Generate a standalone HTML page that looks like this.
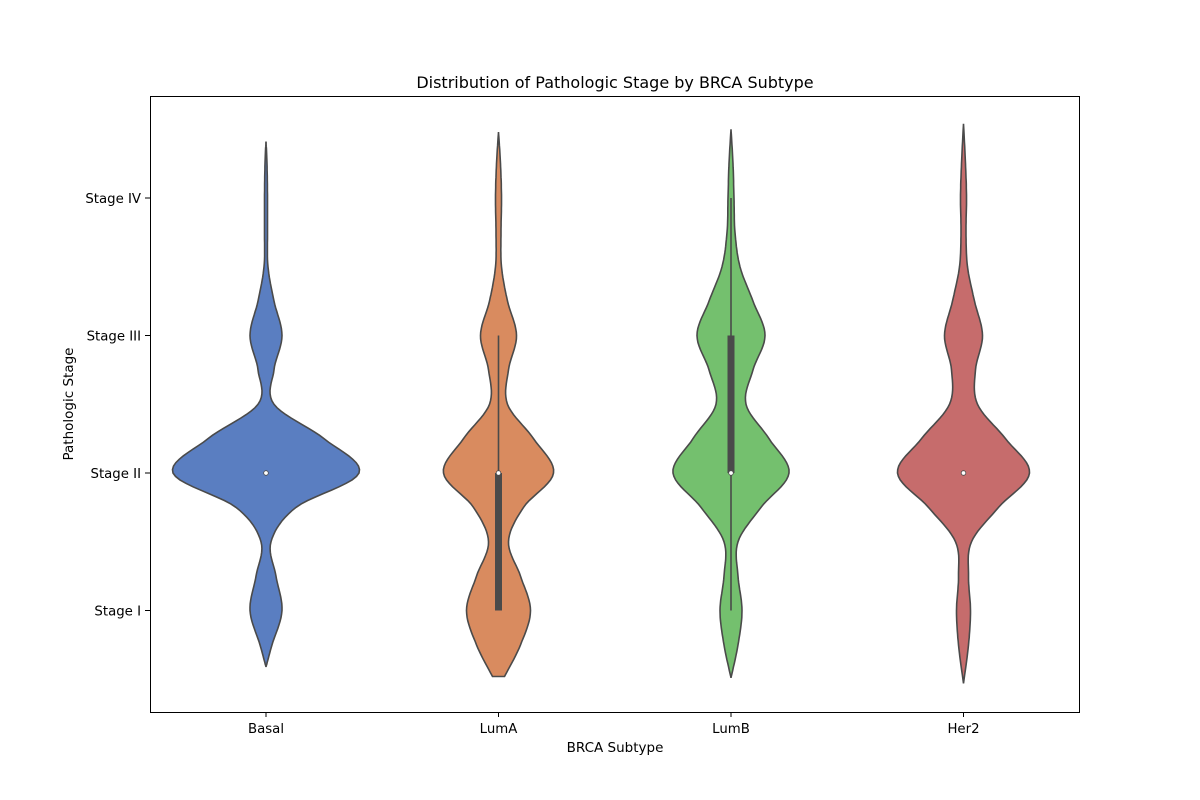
<!DOCTYPE html>
<html><head><meta charset="utf-8"><style>
body{margin:0;background:#fff;}
svg{display:block;font-family:"DejaVu Sans","Liberation Sans",sans-serif;}
</style></head><body>
<svg id="chart" width="1200" height="800" viewBox="0 0 1200 800">
<rect width="1200" height="800" fill="#fff"/>
<text x="615" y="88" font-size="16" text-anchor="middle">Distribution of Pathologic Stage by BRCA Subtype</text>
<g id="violins"></g>
<rect x="150.5" y="96.5" width="929" height="616" fill="none" stroke="#000" stroke-width="1"/>
<g id="axes"></g>
<text x="615" y="752" font-size="13.5" text-anchor="middle">BRCA Subtype</text>
<text x="73" y="404" font-size="13.5" text-anchor="middle" transform="rotate(-90 73 404)">Pathologic Stage</text>
</svg>
<script>
const categories = ["Basal","LumA","LumB","Her2"];
const stageLabels = ["Stage I","Stage II","Stage III","Stage IV"];
const stageValues = [1,2,3,4];
const colors = ["#5a7ec1","#d98b5f","#74c06e","#c66c6c"];
// density profiles: stage level -> half width (px)
const basalLevels = [0.59,0.75,1.0,1.25,1.5,1.75,2.0,2.25,2.5,2.75,3.0,3.25,3.5,3.75,4.0,4.25,4.41];
const basalWidths = [0,6,16,10,5,30,93,58,8,8,16,8,2,1.5,1.5,1,0];
const lumaLevels = [0.52,0.75,1.0,1.25,1.5,1.75,2.0,2.25,2.5,2.75,3.0,3.25,3.5,3.75,4.0,4.25,4.48];
const lumaWidths = [6,22,32,22,10,25,55,35,9,10,18,9,3,2.5,3,2,0];
const lumbLevels = [0.51,0.75,1.0,1.25,1.5,1.75,2.0,2.25,2.5,2.75,3.0,3.25,3.5,3.75,4.0,4.25,4.5];
const lumbWidths = [0,7,11,7,7,30,58,38,15,22,34,22,9,4,3,2,0];
const her2Levels = [0.47,0.75,1.0,1.25,1.5,1.75,2.0,2.25,2.5,2.75,3.0,3.25,3.5,3.75,4.0,4.25,4.54];
const her2Widths = [0,5,7,5,8,35,66,42,14,12,19,11,4,2.5,3,2,0];
// box stats
const q1 = [2,1,2,2];
const medians = [2,2,2,2];
const q3 = [2,2,3,2];
const whiskLow = [2,1,1,2];
const whiskHigh = [2,3,4,2];

const levelsAll=[basalLevels,lumaLevels,lumbLevels,her2Levels];
const widthsAll=[basalWidths,lumaWidths,lumbWidths,her2Widths];
const NS="http://www.w3.org/2000/svg";
function xScale(i){return 266+i*232.5;}
function yScale(v){return 473-(v-2)*137.5;}
function mk(tag,attrs,parent){const e=document.createElementNS(NS,tag);for(const k in attrs)e.setAttribute(k,attrs[k]);parent.appendChild(e);return e;}
function interp(L,W){const pts=[];for(let i=0;i<L.length-1;i++){const p0=i>0?i-1:i,p3=i+2<L.length?i+2:i+1;for(let s=0;s<10;s++){const t=s/10,t2=t*t,t3=t2*t;const cr=(a,b,c,d)=>0.5*(2*b+(-a+c)*t+(2*a-5*b+4*c-d)*t2+(-a+3*b-3*c+d)*t3);pts.push([cr(L[p0],L[i],L[i+1],L[p3]),Math.max(0,cr(W[p0],W[i],W[i+1],W[p3]))]);}}pts.push([L[L.length-1],W[W.length-1]]);return pts;}
const vg=document.getElementById('violins');
categories.forEach((c,i)=>{
 const cx=xScale(i),pts=interp(levelsAll[i],widthsAll[i]);
 let d="M"+pts.map(p=>(cx+p[1]).toFixed(1)+","+yScale(p[0]).toFixed(1)).join("L");
 d+="L"+pts.slice().reverse().map(p=>(cx-p[1]).toFixed(1)+","+yScale(p[0]).toFixed(1)).join("L")+"Z";
 const v=mk('path',{d:d,fill:colors[i],stroke:"#4a4a4a","stroke-width":1.6},vg);
 
 
 const w=mk('line',{x1:cx,x2:cx,y1:yScale(whiskLow[i]),y2:yScale(whiskHigh[i]),stroke:"#4a4a4a","stroke-width":1.6},vg);
 
 
 const b=mk('rect',{x:cx-3.5,y:yScale(q3[i]),width:7,height:yScale(q1[i])-yScale(q3[i]),fill:"#4a4a4a"},vg);
 
 
 const m=mk('circle',{cx:cx,cy:yScale(medians[i]),r:2.3,fill:"#fff",stroke:"#4a4a4a","stroke-width":0.8},vg);
 
 
});
const ag=document.getElementById('axes');
categories.forEach((c,i)=>{
 const x=xScale(i);
 mk('line',{x1:x,x2:x,y1:712,y2:717,stroke:"#000"},ag);
 const t=mk('text',{x:x,y:733,'font-size':13.3,'text-anchor':'middle'},ag);t.textContent=c;
 
 
});
stageValues.forEach((v,i)=>{
 const y=yScale(v);
 mk('line',{x1:145,x2:150,y1:y,y2:y,stroke:"#000"},ag);
 const t=mk('text',{x:141,y:y+5,'font-size':13.3,'text-anchor':'end'},ag);t.textContent=stageLabels[i];
 
 
});
</script>
</body></html>
